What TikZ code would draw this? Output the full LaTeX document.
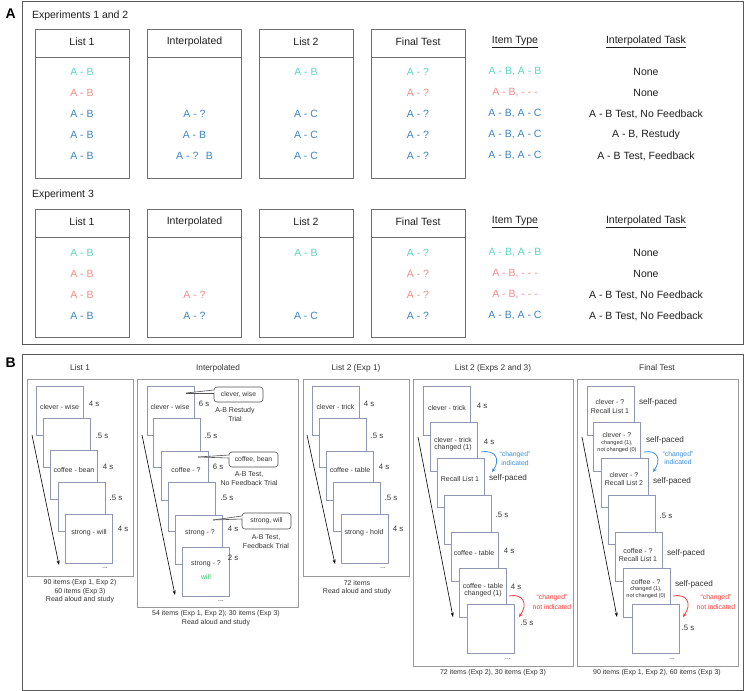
\documentclass[tikz,border=0pt]{standalone}
\usepackage{fontspec}
\setmainfont{Liberation Sans}
\usetikzlibrary{arrows.meta}
\definecolor{tealc}{HTML}{5CD6C2}
\definecolor{salm}{HTML}{F48C88}
\definecolor{bluec}{HTML}{3D85C6}
\definecolor{txt}{HTML}{1E1E1E}
\definecolor{btxt}{HTML}{333333}
\definecolor{boxg}{HTML}{6E6E6E}
\definecolor{panelg}{HTML}{5A5A5A}
\definecolor{colg}{HTML}{9A9A9A}
\definecolor{slidec}{HTML}{9097B4}
\definecolor{greenc}{HTML}{2FC463}
\definecolor{redc}{HTML}{F53B3B}
\definecolor{arrblue}{HTML}{3A8EDB}
\begin{document}
\begin{tikzpicture}[x=1pt,y=-1pt,
  every node/.style={inner sep=0pt, outer sep=0pt},
  plab/.style={font=\fontsize{14}{16}\selectfont\bfseries, text=black, anchor=west},
  atx/.style={font=\fontsize{10.5}{12}\selectfont, text=txt},
  abox/.style={draw=boxg, line width=0.9pt, anchor=north west, minimum width=94pt},
  aline/.style={draw=boxg, line width=0.9pt},
  panel/.style={draw=panelg, line width=1pt, anchor=north west},
  bcol/.style={draw=colg, line width=0.8pt, anchor=north west},
  slide/.style={draw=slidec, line width=0.7pt, fill=white, anchor=north west, minimum width=47pt, minimum height=49pt},
  stx/.style={font=\fontsize{7}{8}\selectfont, text=btxt},
  ssm/.style={font=\fontsize{5.6}{6.5}\selectfont, text=btxt},
  tlab/.style={font=\fontsize{7.8}{9}\selectfont, text=btxt},
  spc/.style={font=\fontsize{8.2}{9}\selectfont, text=btxt},
  hdr/.style={font=\fontsize{8.3}{10}\selectfont, text=btxt},
  capt/.style={font=\fontsize{7}{8}\selectfont, text=btxt},
  ann/.style={font=\fontsize{6.8}{8}\selectfont},
  seq/.style={-{Stealth[length=4.5pt,width=3pt]}, line width=0.6pt, black},
  bubble/.style={draw=btxt!85, line width=0.6pt, rounded corners=3pt, fill=white, anchor=north west, font=\fontsize{6.8}{8}\selectfont, text=btxt},
  tail/.style={draw=btxt!85, line width=0.6pt},
  carr/.style={-{Stealth[length=4pt,width=3.5pt]}, line width=0.8pt},
]
\path[use as bounding box, fill=white] (0,0) rectangle (745,691);

% panel labels
\node[plab] (labB) at (5.5,363) {B};
\node[plab] (labA) at (5.5,14) {A};

% ================= PANEL A =================
\node[panel, minimum width=721pt, minimum height=343pt] (pA) at (22,1) {};
\node[atx, anchor=west] (e12) at (32,16) {Experiments 1 and 2};
\node[atx, anchor=west] (e3) at (32,195) {Experiment 3};

\node[abox, minimum height=149pt] (b1a) at (35,29) {};
\node[abox, minimum height=149pt] (b1b) at (147.5,29) {};
\node[abox, minimum height=149pt] (b1c) at (259,29) {};
\node[abox, minimum height=149pt] (b1d) at (371,29) {};
\node[abox, minimum height=128pt] (b3a) at (35,209) {};
\node[abox, minimum height=128pt] (b3b) at (147.5,209) {};
\node[abox, minimum height=128pt] (b3c) at (259,209) {};
\node[abox, minimum height=128pt] (b3d) at (371,209) {};
\foreach \b in {b1a,b1b,b1c,b1d,b3a,b3b,b3c,b3d}
  \draw[aline] ([yshift=-28pt]\b.north west) -- ([yshift=-28pt]\b.north east);

% headers
\foreach \r/\yy in {1/42, 3/222} {
  \node[atx] (h\r a) at (82,\yy) {List 1};
  \node[atx] (h\r b) at (194.5,\yy) {Interpolated};
  \node[atx] (h\r c) at (306,\yy) {List 2};
  \node[atx] (h\r d) at (418,\yy) {Final Test};
  \node[atx] (h\r e) at (515,\yy) {\underline{Item Type}};
  \node[atx] (h\r f) at (646,\yy) {\underline{Interpolated Task}};
}

% Exp 1 and 2 rows
\node[atx, text=tealc] (r1a1) at (82,72) {A - B};
\node[atx, text=salm]  (r1a2) at (82,93) {A - B};
\node[atx, text=bluec] (r1a3) at (82,114) {A - B};
\node[atx, text=bluec] (r1a4) at (82,135) {A - B};
\node[atx, text=bluec] (r1a5) at (82,156) {A - B};
\node[atx, text=bluec] (r1b3) at (194.5,114) {A - ?};
\node[atx, text=bluec] (r1b4) at (194.5,135) {A - B};
\node[atx, text=bluec] (r1b5) at (194.5,156) {A - ?\hspace{0.7em}B};
\node[atx, text=tealc] (r1c1) at (306,72) {A - B};
\node[atx, text=bluec] (r1c3) at (306,114) {A - C};
\node[atx, text=bluec] (r1c4) at (306,135) {A - C};
\node[atx, text=bluec] (r1c5) at (306,156) {A - C};
\node[atx, text=tealc] (r1d1) at (418,72) {A - ?};
\node[atx, text=salm]  (r1d2) at (418,93) {A - ?};
\node[atx, text=bluec] (r1d3) at (418,114) {A - ?};
\node[atx, text=bluec] (r1d4) at (418,135) {A - ?};
\node[atx, text=bluec] (r1d5) at (418,156) {A - ?};
\node[atx, text=tealc] (r1e1) at (515,72) {A - B, A - B};
\node[atx, text=salm]  (r1e2) at (515,93) {A - B, - - -};
\node[atx, text=bluec] (r1e3) at (515,114) {A - B, A - C};
\node[atx, text=bluec] (r1e4) at (515,135) {A - B, A - C};
\node[atx, text=bluec] (r1e5) at (515,156) {A - B, A - C};
\node[atx] (r1f1) at (646,72) {None};
\node[atx] (r1f2) at (646,93) {None};
\node[atx] (r1f3) at (646,114) {A - B Test, No Feedback};
\node[atx] (r1f4) at (646,135) {A - B, Restudy};
\node[atx] (r1f5) at (646,156) {A - B Test, Feedback};

% Exp 3 rows
\node[atx, text=tealc] (r3a1) at (82,253) {A - B};
\node[atx, text=salm]  (r3a2) at (82,274) {A - B};
\node[atx, text=salm]  (r3a3) at (82,295) {A - B};
\node[atx, text=bluec] (r3a4) at (82,316) {A - B};
\node[atx, text=salm]  (r3b3) at (194.5,295) {A - ?};
\node[atx, text=bluec] (r3b4) at (194.5,316) {A - ?};
\node[atx, text=tealc] (r3c1) at (306,253) {A - B};
\node[atx, text=bluec] (r3c4) at (306,316) {A - C};
\node[atx, text=tealc] (r3d1) at (418,253) {A - ?};
\node[atx, text=salm]  (r3d2) at (418,274) {A - ?};
\node[atx, text=salm]  (r3d3) at (418,295) {A - ?};
\node[atx, text=bluec] (r3d4) at (418,316) {A - ?};
\node[atx, text=tealc] (r3e1) at (515,253) {A - B, A - B};
\node[atx, text=salm]  (r3e2) at (515,274) {A - B, - - -};
\node[atx, text=salm]  (r3e3) at (515,295) {A - B, - - -};
\node[atx, text=bluec] (r3e4) at (515,316) {A - B, A - C};
\node[atx] (r3f1) at (646,253) {None};
\node[atx] (r3f2) at (646,274) {None};
\node[atx] (r3f3) at (646,295) {A - B Test, No Feedback};
\node[atx] (r3f4) at (646,316) {A - B Test, No Feedback};

% ================= PANEL B =================
\node[panel, minimum width=721pt, minimum height=336pt] (pB) at (22,354) {};
\node[hdr] (hb1) at (80,368) {List 1};
\node[hdr] (hb2) at (218,368) {Interpolated};
\node[hdr] (hb3) at (356,368) {List 2 (Exp 1)};
\node[hdr] (hb4) at (493,368) {List 2 (Exps 2 and 3)};
\node[hdr] (hb5) at (657,368) {Final Test};

\node[bcol, minimum width=106pt, minimum height=197pt] (bc1) at (27,379) {};
\node[bcol, minimum width=161pt, minimum height=228pt] (bc2) at (137,379) {};
\node[bcol, minimum width=106pt, minimum height=197pt] (bc3) at (303,379) {};
\node[bcol, minimum width=160pt, minimum height=287pt] (bc4) at (413,379) {};
\node[bcol, minimum width=161pt, minimum height=287pt] (bc5) at (577,379) {};

% slides
\foreach \n/\xx/\yy in {1/36/386, 2/43/418, 3/50/450, 4/58/482, 5/65/514}
  \node[slide] (sa\n) at (\xx,\yy) {};
\foreach \n/\xx/\yy in {1/147/386, 2/153/418, 3/161/451, 4/168/482, 5/175/515, 6/182/547}
  \node[slide] (sb\n) at (\xx,\yy) {};
\foreach \n/\xx/\yy in {1/312/386, 2/319/418, 3/326/451, 4/333/482, 5/341/514}
  \node[slide] (sc\n) at (\xx,\yy) {};
\foreach \n/\xx/\yy in {1/423/386, 2/430/422, 3/437/458, 4/444/495, 5/451/532, 6/459/568, 7/467/604}
  \node[slide] (sd\n) at (\xx,\yy) {};
\foreach \n/\xx/\yy in {1/587/386, 2/593/422, 3/601/458, 4/608/495, 5/615/532, 6/623/568, 7/632/604}
  \node[slide] (se\n) at (\xx,\yy) {};

% ---- List 1 column
\node[stx] (ta1) at (59.5,407) {clever - wise};
\node[tlab] (da1) at (94,404) {4 s};
\node[tlab] (da2) at (102,436) {.5 s};
\node[stx] (ta3) at (74,470) {coffee - bean};
\node[tlab] (da3) at (108,467) {4 s};
\node[tlab] (da4) at (116,498) {.5 s};
\node[stx] (ta5) at (89,533) {strong - will};
\node[tlab] (da5) at (123,529) {4 s};
\node[stx] (dotsa) at (105,568) {...};
\coordinate (qa1) at (32,435);
\coordinate (qa2) at (59,565);
\draw[seq] (qa1) -- (qa2);
\node[capt] (ca1) at (80,583) {90 items (Exp 1, Exp 2)};
\node[capt] (ca2) at (80,591.5) {60 items (Exp 3)};
\node[capt] (ca3) at (80,600) {Read aloud and study};

% ---- Interpolated column
\node[stx] (tb1) at (170,407) {clever - wise};
\node[tlab] (db1) at (204,404) {6 s};
\node[tlab] (db2) at (211,436) {.5 s};
\node[stx] (tb3) at (186,470) {coffee - ?};
\node[tlab] (db3) at (218,467) {6 s};
\node[tlab] (db4) at (227,498) {.5 s};
\node[stx] (tb5) at (200,533) {strong - ?};
\node[tlab] (db5) at (233,529) {4 s};
\node[tlab] (db6) at (233,558) {2 s};
\node[stx] (tb6) at (206,564) {strong - ?};
\node[stx, text=greenc] (tb6w) at (206,577) {will};
\node[stx] (dotsb) at (221,601) {...};
\coordinate (qb1) at (142,435);
\coordinate (qb2) at (175,595);
\draw[seq] (qb1) -- (qb2);
\node[capt] (cb1) at (216,614) {54 items (Exp 1, Exp 2); 30 items (Exp 3)};
\node[capt] (cb2) at (216,623) {Read aloud and study};

% callouts
\node[bubble, minimum width=49pt, minimum height=15pt] (bb1) at (214,387) {clever, wise};
\coordinate (cp1) at (186,393);
\fill[white] (cp1) -- ([xshift=0.6pt,yshift=-3pt]bb1.north west) -- ([xshift=0.6pt,yshift=-6pt]bb1.north west) -- cycle;
\draw[tail] (cp1) -- ([yshift=-3pt]bb1.north west);
\draw[tail] (cp1) -- ([yshift=-6pt]bb1.north west);
\node[stx] (nb1a) at (235,411) {A-B Restudy};
\node[stx] (nb1b) at (235,419) {Trial};

\node[bubble, minimum width=49pt, minimum height=15pt] (bb2) at (229,452) {coffee, bean};
\coordinate (cp2) at (198,457);
\fill[white] (cp2) -- ([xshift=0.6pt,yshift=-3pt]bb2.north west) -- ([xshift=0.6pt,yshift=-6pt]bb2.north west) -- cycle;
\draw[tail] (cp2) -- ([yshift=-3pt]bb2.north west);
\draw[tail] (cp2) -- ([yshift=-6pt]bb2.north west);
\node[stx] (nb2a) at (249,475) {A-B Test,};
\node[stx] (nb2b) at (249,483) {No Feedback Trial};

\node[bubble, minimum width=49pt, minimum height=16pt] (bb3) at (242,513) {strong, will};
\coordinate (cp3) at (213,520);
\fill[white] (cp3) -- ([xshift=0.6pt,yshift=-3pt]bb3.north west) -- ([xshift=0.6pt,yshift=-6pt]bb3.north west) -- cycle;
\draw[tail] (cp3) -- ([yshift=-3pt]bb3.north west);
\draw[tail] (cp3) -- ([yshift=-6pt]bb3.north west);
\node[stx] (nb3a) at (266,538) {A-B Test,};
\node[stx] (nb3b) at (266,546) {Feedback Trial};

% ---- List 2 (Exp 1) column
\node[stx] (tc1) at (335.5,407) {clever - trick};
\node[tlab] (dc1) at (369,404) {4 s};
\node[tlab] (dc2) at (377,436) {.5 s};
\node[stx] (tc3) at (350,470) {coffee - table};
\node[tlab] (dc3) at (384,467) {4 s};
\node[tlab] (dc4) at (391,498) {.5 s};
\node[stx] (tc5) at (364,533) {strong - hold};
\node[tlab] (dc5) at (398,529) {4 s};
\node[stx] (dotsc) at (383,568) {...};
\coordinate (qc1) at (307,435);
\coordinate (qc2) at (335,564);
\draw[seq] (qc1) -- (qc2);
\node[capt] (cc1) at (357,583) {72 items};
\node[capt] (cc2) at (357,592) {Read aloud and study};

% ---- List 2 (Exps 2 and 3) column
\node[stx] (td1) at (447,408) {clever - trick};
\node[tlab] (dd1) at (482,406) {4 s};
\node[stx] (td2a) at (453,440) {clever - trick};
\node[stx] (td2b) at (453,448) {changed (1)};
\node[tlab] (dd2) at (489,442) {4 s};
\coordinate (ud1) at (481,452);
\coordinate (ud2) at (492,472);
\draw[carr, arrblue] (ud1) to[out=10, in=55, looseness=1.7] (ud2);
\node[ann, text=arrblue] (ad1) at (515,455) {“changed”};
\node[ann, text=arrblue] (ad2) at (515,463) {indicated};
\node[stx] (td3) at (460,479) {Recall List 1};
\node[spc] (sd3) at (508,478) {self-paced};
\node[tlab] (dd4) at (502,515) {.5 s};
\node[stx] (td5) at (474,553) {coffee - table};
\node[tlab] (dd5) at (509,551) {4 s};
\node[stx] (td6a) at (483,586) {coffee - table};
\node[stx] (td6b) at (483,594) {changed (1)};
\node[tlab] (dd6) at (516,587) {4 s};
\coordinate (vd1) at (509,596);
\coordinate (vd2) at (519,617);
\draw[carr, redc] (vd1) to[out=10, in=55, looseness=1.7] (vd2);
\node[ann, text=redc] (rd1) at (552,598) {“changed”};
\node[ann, text=redc] (rd2) at (552,607) {not indicated};
\node[tlab] (dd7) at (527,623) {.5 s};
\node[stx] (dotsd) at (508,659) {...};
\coordinate (qd1) at (418,437);
\coordinate (qd2) at (453,617);
\draw[seq] (qd1) -- (qd2);
\node[capt] (cd1) at (493,673) {72 items (Exp 2), 30 items (Exp 3)};

% ---- Final Test column
\node[stx] (te1a) at (610,402) {clever - ?};
\node[stx] (te1b) at (610,411) {Recall List 1};
\node[spc] (se1l) at (658,402) {self-paced};
\node[stx] (te2a) at (617,435) {clever - ?};
\node[ssm] (te2b) at (617,443) {changed (1),};
\node[ssm] (te2c) at (617,450) {not changed (0)};
\node[spc] (se2l) at (665,440) {self-paced};
\coordinate (ue1) at (644,452);
\coordinate (ue2) at (653,472);
\draw[carr, arrblue] (ue1) to[out=10, in=55, looseness=1.7] (ue2);
\node[ann, text=arrblue] (ae1) at (678,455) {“changed”};
\node[ann, text=arrblue] (ae2) at (678,462.5) {indicated};
\node[stx] (te3a) at (624,475) {clever - ?};
\node[stx] (te3b) at (624,483) {Recall List 2};
\node[spc] (se3l) at (672,481) {self-paced};
\node[tlab] (de4) at (666,516) {.5 s};
\node[stx] (te5a) at (638,551) {coffee - ?};
\node[stx] (te5b) at (638,559) {Recall List 1};
\node[spc] (se5l) at (686,553) {self-paced};
\node[stx] (te6a) at (646,582) {coffee - ?};
\node[ssm] (te6b) at (646,589.5) {changed (1),};
\node[ssm] (te6c) at (646,596.5) {not changed (0)};
\node[spc] (se6l) at (694,584) {self-paced};
\coordinate (ve1) at (673,596);
\coordinate (ve2) at (683,617);
\draw[carr, redc] (ve1) to[out=10, in=55, looseness=1.7] (ve2);
\node[ann, text=redc] (re1) at (716,598) {“changed”};
\node[ann, text=redc] (re2) at (716,607) {not indicated};
\node[tlab] (de7) at (688,628) {.5 s};
\node[stx] (dotse) at (672,659) {...};
\coordinate (qe1) at (582,437);
\coordinate (qe2) at (617,617);
\draw[seq] (qe1) -- (qe2);
\node[capt] (ce1) at (657,673) {90 items (Exp 1, Exp 2), 60 items (Exp 3)};
\end{tikzpicture}
\end{document}
